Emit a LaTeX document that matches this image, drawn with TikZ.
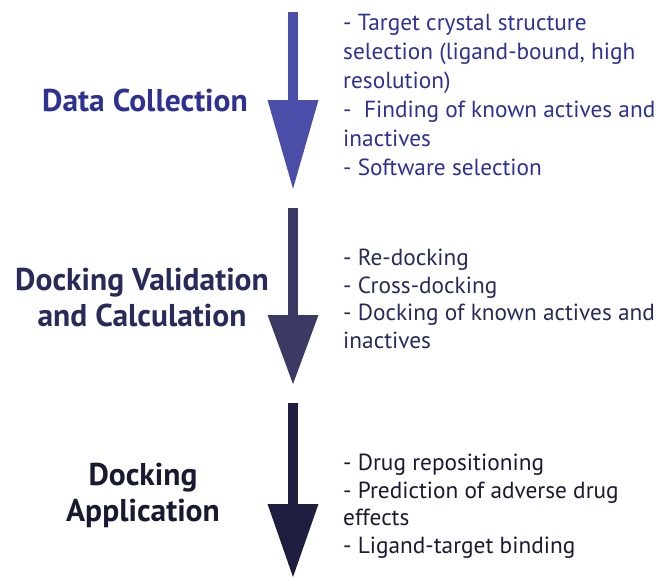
\documentclass[tikz,border=0pt]{standalone}
\usepackage{fontspec}
\setmainfont{PT Sans}
\usetikzlibrary{arrows.meta,positioning}

\definecolor{stageA}{RGB}{74,78,168}
\definecolor{stageB}{RGB}{58,58,100}
\definecolor{stageC}{RGB}{30,31,64}
\definecolor{textA}{RGB}{46,49,146}
\definecolor{textB}{RGB}{40,42,90}
\definecolor{textC}{RGB}{25,25,50}

\begin{document}
\begin{tikzpicture}[
    x=1pt, y=-1pt,
    title/.style={align=center, inner sep=0pt, font=\fontsize{31.5}{36}\selectfont\bfseries},
    items/.style={anchor=north west, align=left, inner sep=0pt,
                  font=\fontsize{23.3}{#1}\selectfont},
    items/.default=27.5,
    bigarrow/.style={line width=10pt, -{Triangle[length=#1, width=48pt]}}
]
\useasboundingbox (0,0) rectangle (661,579);

%% ── Stage 1: data collection ─────────────────────────────────────
\coordinate (dctop) at (293,12);
\coordinate (dctip) at (293,190);
\draw[bigarrow=90pt, stageA] (dctop) -- (dctip);
\node[title, text=textA] (dctitle) at (145,100) {Data Collection};
\node[items=29, text=textA] (dcitems) at (343,14)
    {- Target crystal structure\\selection (ligand-bound, high\\resolution)\\-~ Finding of known actives and\\inactives\\- Software selection};

%% ── Stage 2: validation ──────────────────────────────────────────
\coordinate (dvtop) at (293,208);
\coordinate (dvtip) at (293,385);
\draw[bigarrow=70pt, stageB] (dvtop) -- (dvtip);
\node[title, text=textB] (dvtitle) at (142,298) {Docking Validation\\and Calculation};
\node[items, text=textB] (dvitems) at (343,249)
    {- Re-docking\\- Cross-docking\\- Docking of known actives and\\inactives};

%% ── Stage 3: application ─────────────────────────────────────────
\coordinate (datop) at (293,403);
\coordinate (datip) at (293,578);
\draw[bigarrow=74pt, stageC] (datop) -- (datip);
\node[title, text=textC] (datitle) at (143,495) {Docking\\Application};
\node[items, text=textC] (daitems) at (343,454)
    {- Drug repositioning\\- Prediction of adverse drug\\effects\\- Ligand-target binding};

\end{tikzpicture}
\end{document}
